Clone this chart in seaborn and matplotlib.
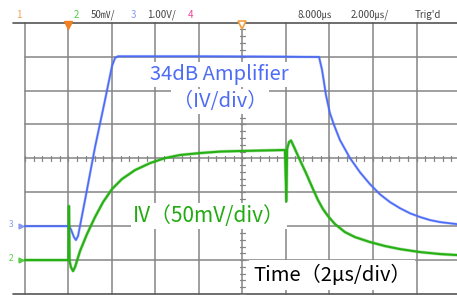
import numpy as np
import pandas as pd
import matplotlib
matplotlib.use("Agg")
import matplotlib.pyplot as plt
import seaborn as sns

# time axis: microseconds after trigger, 2 us/div
blue_t = [-2.0, 0.02, 0.11, 0.25, 0.34, 0.44, 0.76, 1.22, 1.68, 2.0, 2.14, 2.28,
          6.05, 9.72, 11.52, 11.66, 11.84, 12.02, 12.21, 12.48, 12.94, 13.4,
          13.86, 14.32, 14.78, 15.24, 15.7, 16.16, 16.62, 17.08, 17.86]
# ch3 (34dB amplifier), volts above its ground marker, 1 V/div
blue_v = [0.0, 0.0, -0.09, -0.32, -0.41, -0.29, 0.77, 2.33, 3.72, 4.72, 4.96, 5.01,
          5.01, 5.0, 4.99, 4.6, 3.86, 3.33, 2.98, 2.54, 2.01, 1.59,
          1.24, 0.94, 0.71, 0.53, 0.38, 0.27, 0.18, 0.12, 0.06]

green_t = [-2.0, 0.0, 0.02, 0.05, 0.11, 0.21, 0.30, 0.53, 0.85, 1.22, 1.59, 2.0,
           2.46, 3.06, 3.75, 4.44, 5.13, 6.05, 6.97, 7.89, 8.80, 9.95, 10.02,
           10.05, 10.14, 10.23, 10.37, 10.64, 10.92, 11.20, 11.47, 11.70, 11.93,
           12.25, 12.71, 13.17, 13.86, 14.55, 15.24, 16.16, 17.08, 17.86]
# ch2 (IV), mV above its ground marker, 50 mV/div
green_mv = [0.0, 0.0, 79.6, -1.5, -10.3, -16.2, -10.3, 13.3, 38.3, 63.4, 85.5, 104.7,
            119.5, 132.7, 143.0, 150.4, 154.9, 157.8, 160.0, 160.8, 161.5, 162.3, 87.0,
            163.8, 174.1, 176.3, 166.7, 147.5, 128.3, 107.7, 88.5, 75.2, 64.9,
            53.1, 41.3, 33.9, 26.6, 20.7, 16.2, 11.8, 8.9, 7.4]

blue_ofs = -2   # ground marker of ch3 (div)
green_ofs = -3  # ground marker of ch2 (div)

header_txt = ["1", "2", "50㎷/", "3", "1.00V/", "4", "8.000㎲", "2.000㎲/", "Trig'd"]
header_col = ["#f0a050", "#55cc44", "#444444", "#8899ee", "#444444", "#ee4499",
              "#444444", "#444444", "#444444"]

sns.set_theme(style="white")
plt.rcParams['font.family'] = ['Noto Sans CJK JP', 'DejaVu Sans']

BLUE = "#4d6cf5"
GREEN = "#26b014"
GRID = "#858585"

fig = plt.figure(figsize=(4.57, 2.95), dpi=100)
ax = fig.add_axes([0, 0, 1, 1])

# graticule
for t in np.arange(-2, 18, 2):
    ax.plot([t, t], [-4, 4], color=GRID, lw=1.1, zorder=1)
for d in range(-3, 4):
    ax.plot([-2, 18], [d, d], color=GRID, lw=1.1, zorder=1)
for d in (-4, 4):
    ax.plot([-2.55, 18], [d, d], color="#555555", lw=1.2, zorder=1)
# minor ticks on centre lines
for t in np.arange(-2, 18.01, 0.4):
    ax.plot([t, t], [-0.08, 0.08], color=GRID, lw=0.9, zorder=1)
for d in np.arange(-4, 4.01, 0.2):
    ax.plot([7.88, 8.12], [d, d], color=GRID, lw=0.9, zorder=1)

# traces
blue_df = pd.DataFrame({"t": blue_t, "div": np.array(blue_v) / 1.0 + blue_ofs})
green_df = pd.DataFrame({"t": green_t, "div": np.array(green_mv) / 50.0 + green_ofs})
sns.lineplot(data=blue_df, x="t", y="div", sort=False, estimator=None, ax=ax,
             color=BLUE, lw=2.0, alpha=0.35, zorder=5, legend=False)
sns.lineplot(data=blue_df, x="t", y="div", sort=False, estimator=None, ax=ax,
             color=BLUE, lw=1.2, zorder=6, legend=False)
sns.lineplot(data=green_df, x="t", y="div", sort=False, estimator=None, ax=ax,
             color=GREEN, lw=2.4, alpha=0.35, zorder=5, legend=False)
sns.lineplot(data=green_df, x="t", y="div", sort=False, estimator=None, ax=ax,
             color=GREEN, lw=1.5, zorder=6, legend=False)
ax.set_xlim(-3.149, 17.862)
ax.set_ylim(-4.03, 4.67)
ax.axis("off")

# annotations
box = dict(fc="white", ec="none", pad=1.5)
ax.text(6.94, 2.47, "34dB Amplifier", color=BLUE, fontsize=14.5, ha="center",
        va="center", bbox=box, zorder=3)
ax.text(6.97, 1.67, "（IV/div）", color=BLUE, fontsize=14.5, ha="center",
        va="center", bbox=box, zorder=3)
ax.text(6.45, -1.70, "IV（50mV/div）", color="#22aa11", fontsize=15, ha="center",
        va="center", bbox=box, zorder=3)
ax.text(12.11, -3.44, "Time（2μs/div）", color="black", fontsize=14.5, ha="center",
        va="center", bbox=dict(fc="white", ec="none", pad=3), zorder=7)

# channel ground markers
ax.text(-2.62, blue_ofs + 0.05, "3", color="#8899ee", fontsize=6, ha="center", va="center")
ax.plot(-2.2, blue_ofs, marker=">", ms=3.5, color="#8899ee", clip_on=False)
ax.text(-2.62, green_ofs + 0.05, "2", color="#55cc44", fontsize=6, ha="center", va="center")
ax.plot(-2.2, green_ofs, marker=">", ms=3.5, color="#55cc44", clip_on=False)

# trigger markers
ax.plot(0, 3.92, marker="v", ms=6, color="#f08020", zorder=8)
ax.plot(8, 3.92, marker="v", ms=6, mfc="white", mec="#f0a040", mew=1.2, zorder=8)

# header
header_x = [19, 76, 103, 133, 161, 190, 315, 370, 428]
for s, c, x in zip(header_txt, header_col, header_x):
    fig.text(x / 457, 1 - 14.5 / 295, s, color=c, fontsize=7, ha="center", va="center")

fig.savefig("out.png", dpi=100)
